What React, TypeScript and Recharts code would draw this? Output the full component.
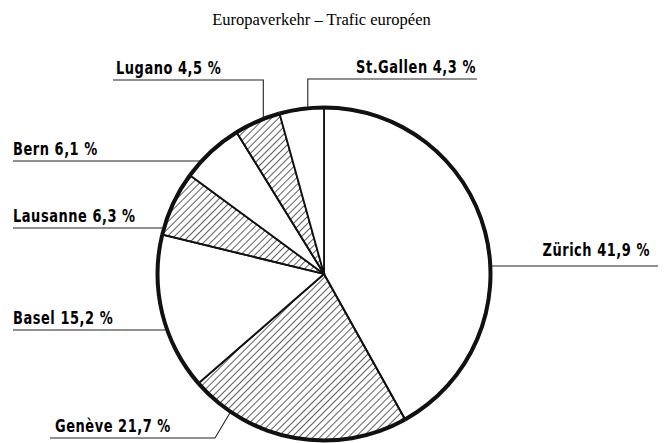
import React from 'react';
import { PieChart, Pie, Cell } from 'recharts';

// ---- data ----
const categories = ['Zürich', 'Genève', 'Basel', 'Lausanne', 'Bern', 'Lugano', 'St.Gallen'];
const shares = [41.9, 21.7, 15.2, 6.3, 6.1, 4.5, 4.3];
const shareLabels = ['41,9 %', '21,7 %', '15,2 %', '6,3 %', '6,1 %', '4,5 %', '4,3 %'];
const hatched = [false, true, false, true, false, true, false];
const title = 'Europaverkehr – Trafic européen';

// ---- label layout (placement only) ----
type Layout = {
  kind: 'left' | 'right' | 'top' | 'bottom';
  textX: number;
  textY: number;
  anchor: 'start' | 'end';
  lineY: number;
  lineFrom?: number;
  lineTo?: number;
  elbowX?: number;
  frac?: number;
};
const labelLayout: Layout[] = [
  { kind: 'right', textX: 650, textY: 256, anchor: 'end', lineY: 266, lineTo: 658 },
  { kind: 'bottom', textX: 55, textY: 432, anchor: 'start', lineY: 438, lineFrom: 50, elbowX: 215, frac: 0.81 },
  { kind: 'left', textX: 13, textY: 324, anchor: 'start', lineY: 330, lineFrom: 13 },
  { kind: 'left', textX: 13, textY: 222, anchor: 'start', lineY: 228, lineFrom: 13 },
  { kind: 'left', textX: 13, textY: 155, anchor: 'start', lineY: 161, lineFrom: 13 },
  { kind: 'top', textX: 116, textY: 74, anchor: 'start', lineY: 80, lineFrom: 113, frac: 0.64 },
  { kind: 'top', textX: 476, textY: 73, anchor: 'end', lineY: 79, lineTo: 477, frac: 0.64 },
];

const pieData = categories.map((name, i) => ({ name, value: shares[i] }));
const total = shares.reduce((a, b) => a + b, 0);

const labelFont = "'Liberation Sans Narrow', 'DejaVu Sans Condensed', sans-serif";
const squeeze = 0.78;

const renderLabel = (props: any) => {
  const { cx, cy, outerRadius, index } = props;
  const L = labelLayout[index];
  const r = outerRadius + 1;
  const before = shares.slice(0, index).reduce((a, b) => a + b, 0);
  const pointAt = (frac: number) => {
    const f = (before + shares[index] * frac) / total;
    const a = ((90 - 360 * f) * Math.PI) / 180;
    return [cx + r * Math.cos(a), cy - r * Math.sin(a)];
  };
  const circleX = (y: number, side: number) => cx + side * Math.sqrt(Math.max(0, r * r - (y - cy) * (y - cy)));
  let d = '';
  if (L.kind === 'left') {
    d = `M${L.lineFrom},${L.lineY}L${circleX(L.lineY, -1)},${L.lineY}`;
  } else if (L.kind === 'right') {
    d = `M${circleX(L.lineY, 1)},${L.lineY}L${L.lineTo},${L.lineY}`;
  } else if (L.kind === 'top') {
    const [px, py] = pointAt(L.frac ?? 0.5);
    if (L.lineFrom !== undefined) {
      d = `M${L.lineFrom},${L.lineY}L${px},${L.lineY}L${px},${py}`;
    } else {
      d = `M${L.lineTo},${L.lineY}L${px},${L.lineY}L${px},${py}`;
    }
  } else {
    const [px, py] = pointAt(L.frac ?? 0.5);
    d = `M${L.lineFrom},${L.lineY}L${L.elbowX},${L.lineY}L${px},${py}`;
  }
  return (
    <g>
      <path d={d} stroke="#222" strokeWidth={1.1} fill="none" />
      <text
        x={0}
        y={0}
        transform={`translate(${L.textX},${L.textY}) scale(${squeeze},1)`}
        textAnchor={L.anchor}
        fontFamily={labelFont}
        fontWeight="bold"
        fontSize={18.5}
        letterSpacing={0.7}
        fill="#000"
      >
        {`${categories[index]} ${shareLabels[index]}`}
      </text>
    </g>
  );
};

export default function App() {
  return (
    <div style={{ position: 'absolute', left: 0, top: 0, width: 670, height: 443, background: '#fff' }}>
      <div
        style={{
          position: 'absolute',
          left: 0,
          top: 11,
          width: 643,
          textAlign: 'center',
          fontFamily: "'Liberation Serif', serif",
          fontSize: 16.5,
          lineHeight: '17px',
          color: '#000',
          whiteSpace: 'nowrap',
        }}
      >
        {title}
      </div>
      <PieChart width={670} height={443} margin={{ top: 0, right: 0, bottom: 0, left: 0 }}>
        <defs>
          <pattern id="hatch" patternUnits="userSpaceOnUse" width={5} height={5} patternTransform="rotate(45)">
            <line x1={0} y1={0} x2={0} y2={5} stroke="#000" strokeWidth={1.25} />
          </pattern>
        </defs>
        <Pie
          data={pieData}
          dataKey="value"
          nameKey="name"
          cx={324}
          cy={274}
          outerRadius={166}
          startAngle={90}
          endAngle={-270}
          stroke="#111"
          strokeWidth={1.8}
          isAnimationActive={false}
          labelLine={false}
          label={renderLabel}
        >
          {pieData.map((e, i) => (
            <Cell key={e.name} fill={hatched[i] ? 'url(#hatch)' : '#fff'} />
          ))}
        </Pie>
        <Pie
          data={pieData}
          dataKey="value"
          cx={324}
          cy={274}
          innerRadius={164.5}
          outerRadius={168.5}
          startAngle={90}
          endAngle={-270}
          stroke="none"
          fill="#111"
          isAnimationActive={false}
          labelLine={false}
          label={false}
        />
      </PieChart>
    </div>
  );
}
